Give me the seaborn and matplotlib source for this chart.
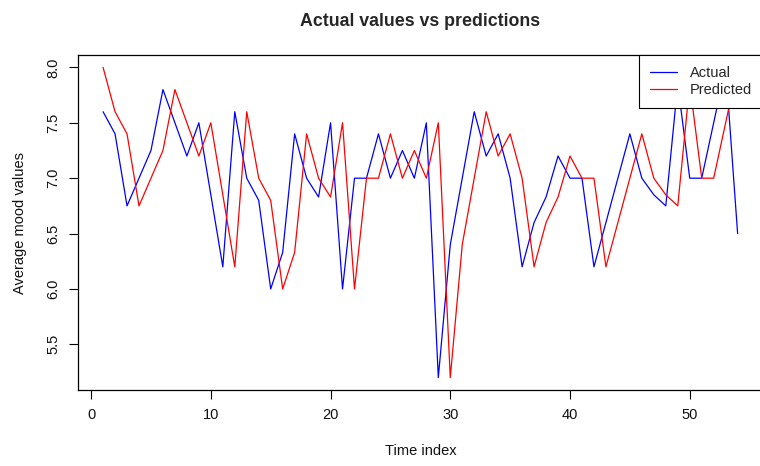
import pandas as pd
import seaborn as sns
import matplotlib
matplotlib.use("Agg")
import matplotlib.pyplot as plt

# values
time_index = list(range(1, 55))
actual = [7.6, 7.4, 6.75, 7.0, 7.25, 7.8, 7.5, 7.2, 7.5, 6.85,
          6.2, 7.6, 7.0, 6.8, 6.0, 6.33, 7.4, 7.0, 6.83, 7.5,
          6.0, 7.0, 7.0, 7.4, 7.0, 7.25, 7.0, 7.5, 5.2, 6.4,
          7.0, 7.6, 7.2, 7.4, 7.0, 6.2, 6.6, 6.83, 7.2, 7.0,
          7.0, 6.2, 6.6, 7.0, 7.4, 7.0, 6.85, 6.75, 7.85, 7.0,
          7.0, 7.5, 8.0, 6.5]
# naive prediction: previous value
predicted = [8.0, 7.6, 7.4, 6.75, 7.0, 7.25, 7.8, 7.5, 7.2, 7.5,
             6.85, 6.2, 7.6, 7.0, 6.8, 6.0, 6.33, 7.4, 7.0, 6.83,
             7.5, 6.0, 7.0, 7.0, 7.4, 7.0, 7.25, 7.0, 7.5, 5.2,
             6.4, 7.0, 7.6, 7.2, 7.4, 7.0, 6.2, 6.6, 6.83, 7.2,
             7.0, 7.0, 6.2, 6.6, 7.0, 7.4, 7.0, 6.85, 6.75, 7.85,
             7.0, 7.0, 7.5, 8.0]
series_names = ["Actual", "Predicted"]
x_ticks = [0, 10, 20, 30, 40, 50]
y_ticks = [5.5, 6.0, 6.5, 7.0, 7.5, 8.0]

df = pd.DataFrame({
    "Time index": time_index * 2,
    "value": actual + predicted,
    "series": [series_names[0]] * len(actual) + [series_names[1]] * len(predicted),
})

sns.set_style("white")
plt.rcParams["font.family"] = ["Liberation Sans", "DejaVu Sans"]

fig = plt.figure(figsize=(7.6, 4.66), dpi=100)
ax = fig.add_axes([77.7 / 760, 76 / 466, 685.3 / 760, 335 / 466])

sns.lineplot(data=df, x="Time index", y="value", hue="series",
             palette={"Actual": "#0000ff", "Predicted": "#ff0000"},
             linewidth=0.9, ax=ax, legend=True)

ax.set_xlim(-1.12, 56.12)
ax.set_ylim(5.088, 8.112)
ax.set_xticks(x_ticks)
ax.set_yticks(y_ticks)
ax.set_xticklabels([str(t) for t in x_ticks], fontsize=10.5)
ax.set_yticklabels([f"{t:.1f}" for t in y_ticks], fontsize=10.5, rotation=90, va="center")
ax.tick_params(axis="both", direction="out", length=6.5, width=0.8, color="black",
               labelcolor="#111111", bottom=True, left=True)
ax.tick_params(axis="x", pad=6.5)
ax.tick_params(axis="y", pad=6)
for s in ax.spines.values():
    s.set_color("black")
    s.set_linewidth(0.9)

ax.set_xlabel("Time index", fontsize=10.5, labelpad=16, color="#111111")
ax.set_ylabel("Average mood values", fontsize=10.5, labelpad=14, color="#111111")
ax.set_title("Actual values vs predictions", fontsize=12.8, fontweight="bold", pad=21)

handles, labels = ax.get_legend_handles_labels()
leg = ax.legend(handles, labels, loc="upper right", bbox_to_anchor=(1.0, 1.0),
                frameon=True, fancybox=False, framealpha=1, edgecolor="black",
                fontsize=10.5, borderaxespad=0, handlelength=1.85, handletextpad=0.9,
                borderpad=0.75, labelspacing=0.2, title=None)
leg.get_frame().set_linewidth(0.8)

fig.savefig("out.png", dpi=100)
